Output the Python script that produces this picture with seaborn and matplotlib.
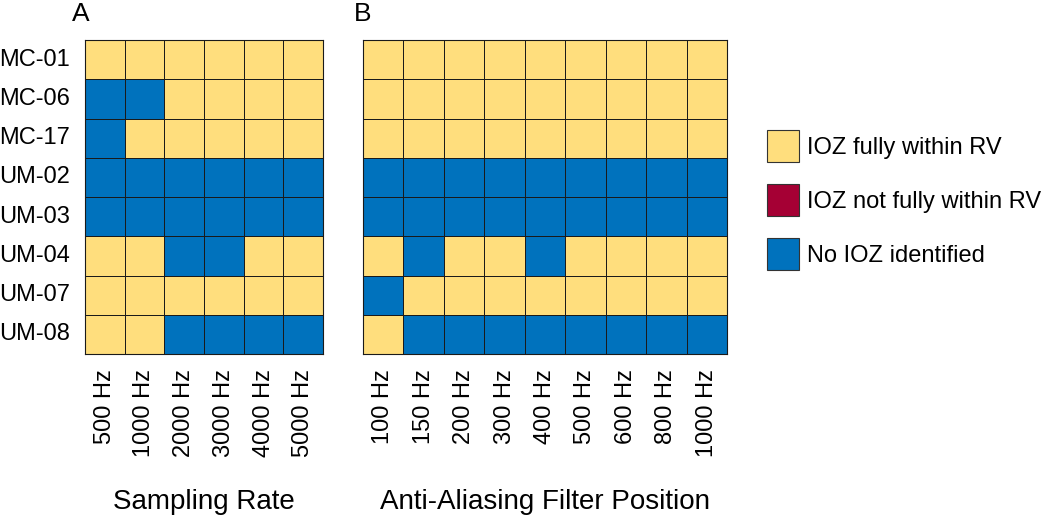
import numpy as np
import pandas as pd
import matplotlib
matplotlib.use('Agg')
import matplotlib.pyplot as plt
import seaborn as sns
from matplotlib.colors import ListedColormap
from matplotlib.patches import Patch

sns.set_style('white')
plt.rcParams['font.family'] = ['Liberation Sans', 'DejaVu Sans']
plt.rcParams['text.color'] = 'black'
plt.rcParams['xtick.color'] = 'black'
plt.rcParams['ytick.color'] = 'black'
plt.rcParams['axes.labelcolor'] = 'black'

# Data: 0 = IOZ fully within RV, 1 = IOZ not fully within RV, 2 = No IOZ identified
patients = ['MC-01', 'MC-06', 'MC-17', 'UM-02', 'UM-03', 'UM-04', 'UM-07', 'UM-08']
sampling_rates = ['500 Hz', '1000 Hz', '2000 Hz', '3000 Hz', '4000 Hz', '5000 Hz']
filter_positions = ['100 Hz', '150 Hz', '200 Hz', '300 Hz', '400 Hz',
                    '500 Hz', '600 Hz', '800 Hz', '1000 Hz']
categories = ['IOZ fully within RV', 'IOZ not fully within RV', 'No IOZ identified']

sampling_vals = [
    [0, 0, 0, 0, 0, 0],
    [2, 2, 0, 0, 0, 0],
    [2, 0, 0, 0, 0, 0],
    [2, 2, 2, 2, 2, 2],
    [2, 2, 2, 2, 2, 2],
    [0, 0, 2, 2, 0, 0],
    [0, 0, 0, 0, 0, 0],
    [0, 0, 2, 2, 2, 2],
]
filter_vals = [
    [0, 0, 0, 0, 0, 0, 0, 0, 0],
    [0, 0, 0, 0, 0, 0, 0, 0, 0],
    [0, 0, 0, 0, 0, 0, 0, 0, 0],
    [2, 2, 2, 2, 2, 2, 2, 2, 2],
    [2, 2, 2, 2, 2, 2, 2, 2, 2],
    [0, 2, 0, 0, 2, 0, 0, 0, 0],
    [2, 0, 0, 0, 0, 0, 0, 0, 0],
    [0, 2, 2, 2, 2, 2, 2, 2, 2],
]

colors = ['#FFDE7D', '#A50034', '#0072BD']
cmap = ListedColormap(colors)

df_a = pd.DataFrame(sampling_vals, index=patients, columns=sampling_rates)
df_b = pd.DataFrame(filter_vals, index=patients, columns=filter_positions)

fig = plt.figure(figsize=(10.5, 5.18), dpi=100)
W, H = 1050, 518
ax_a = fig.add_axes([85 / W, (518 - 354) / H, 238 / W, 314 / H])
ax_b = fig.add_axes([363 / W, (518 - 354) / H, 364 / W, 314 / H])

for ax, df, xlabel in [(ax_a, df_a, 'Sampling Rate'),
                       (ax_b, df_b, 'Anti-Aliasing Filter Position')]:
    sns.heatmap(df, ax=ax, cmap=cmap, vmin=-0.5, vmax=2.5, cbar=False,
                linewidths=0.6, linecolor='#1a1a1a')
    ax.tick_params(axis='both', length=0, labelsize=17, pad=11)
    ax.set_xticklabels(ax.get_xticklabels(), rotation=90)
    ax.set_xlabel(xlabel, fontsize=20, labelpad=23)
    ax.set_ylabel('')
    for side in ['top', 'bottom', 'left', 'right']:
        ax.spines[side].set_visible(True)
        ax.spines[side].set_color('#1a1a1a')
        ax.spines[side].set_linewidth(0.8)

ax_a.set_yticklabels(ax_a.get_yticklabels(), rotation=0)
ax_b.set_yticks([])

fig.text(72 / W, 1 - 14 / H, 'A', fontsize=19, va='center', ha='left')
fig.text(354 / W, 1 - 14 / H, 'B', fontsize=19, va='center', ha='left')

handles = [Patch(facecolor=c, edgecolor='#333333', linewidth=0.8) for c in colors]
fig.legend(handles, categories, loc='center left',
           bbox_to_anchor=(767 / W, 1 - 200 / H), frameon=False,
           borderpad=0, borderaxespad=0,
           fontsize=17, handlelength=1.36, handleheight=1.7,
           labelspacing=0.93, handletextpad=0.35)

fig.savefig('out.png', dpi=100)
